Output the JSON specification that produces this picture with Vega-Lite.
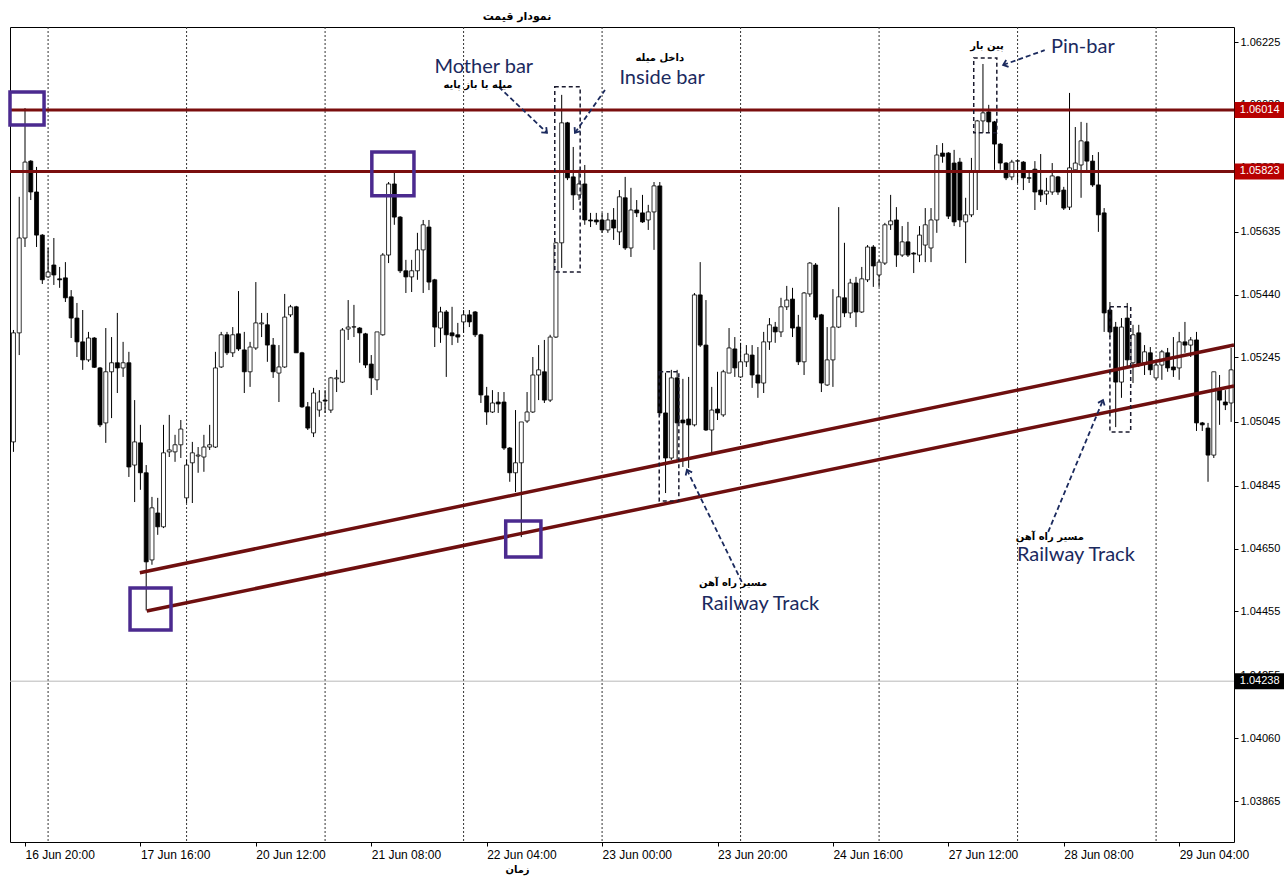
{
"$schema":"https://vega.github.io/schema/vega-lite/v6.json",
"width":1224,"height":815,
"autosize":{"type":"none"},
"padding":{"left":10,"top":27,"right":50,"bottom":35},
"background":"white",
"title":{"text":"نمودار قیمت","anchor":"middle","dx":-105,"offset":5,"fontSize":11,"fontWeight":"bold","font":"DejaVu Sans","color":"black"},
"config":{"view":{"stroke":"#000","strokeWidth":1},"axis":{"grid":false,"domain":false,"labelFont":"Liberation Sans","labelFontSize":11,"labelColor":"#000","tickColor":"#000"},"axisX":{"labelFontSize":12}},
"datasets":{
"candles":[
{"k":-2,"o":1.04982,"h":1.0533,"l":1.04951,"c":1.05321},
{"k":-1,"o":1.05321,"h":1.05744,"l":1.05252,"c":1.05616},
{"k":0,"o":1.05616,"h":1.0602,"l":1.05588,"c":1.05852},
{"k":1,"o":1.05855,"h":1.05858,"l":1.05734,"c":1.05759},
{"k":2,"o":1.05759,"h":1.05837,"l":1.05588,"c":1.05625},
{"k":3,"o":1.05625,"h":1.05628,"l":1.05473,"c":1.05486},
{"k":4,"o":1.05495,"h":1.05585,"l":1.05492,"c":1.0551},
{"k":5,"o":1.05532,"h":1.05616,"l":1.0547,"c":1.05501},
{"k":6,"o":1.05489,"h":1.05526,"l":1.05461,"c":1.05486},
{"k":7,"o":1.05492,"h":1.05541,"l":1.05417,"c":1.0543},
{"k":8,"o":1.05433,"h":1.05454,"l":1.05305,"c":1.05367},
{"k":9,"o":1.05367,"h":1.05414,"l":1.05246,"c":1.05293},
{"k":10,"o":1.05293,"h":1.05392,"l":1.05206,"c":1.05237},
{"k":11,"o":1.05237,"h":1.05324,"l":1.05231,"c":1.05305},
{"k":12,"o":1.05305,"h":1.05308,"l":1.05212,"c":1.05214},
{"k":13,"o":1.05212,"h":1.05215,"l":1.05028,"c":1.05035},
{"k":14,"o":1.05041,"h":1.05336,"l":1.04979,"c":1.052},
{"k":15,"o":1.052,"h":1.05308,"l":1.05056,"c":1.05228},
{"k":16,"o":1.05228,"h":1.05383,"l":1.05134,"c":1.05212},
{"k":17,"o":1.05212,"h":1.05293,"l":1.05184,"c":1.05228},
{"k":18,"o":1.05228,"h":1.05262,"l":1.04873,"c":1.04904},
{"k":19,"o":1.0491,"h":1.05112,"l":1.04795,"c":1.04982},
{"k":20,"o":1.04979,"h":1.05035,"l":1.04833,"c":1.04886},
{"k":21,"o":1.04886,"h":1.0491,"l":1.04458,"c":1.04609},
{"k":22,"o":1.04615,"h":1.04811,"l":1.046,"c":1.04777},
{"k":23,"o":1.04761,"h":1.04808,"l":1.04693,"c":1.04718},
{"k":24,"o":1.04718,"h":1.05035,"l":1.04714,"c":1.04948},
{"k":25,"o":1.04951,"h":1.05066,"l":1.04935,"c":1.04957},
{"k":26,"o":1.04951,"h":1.05004,"l":1.0492,"c":1.04973},
{"k":27,"o":1.04973,"h":1.0505,"l":1.04932,"c":1.05022},
{"k":28,"o":1.04808,"h":1.04926,"l":1.04792,"c":1.0491},
{"k":29,"o":1.04917,"h":1.04982,"l":1.04792,"c":1.04948},
{"k":30,"o":1.04938,"h":1.04966,"l":1.04886,"c":1.04941},
{"k":31,"o":1.04935,"h":1.05004,"l":1.04889,"c":1.04966},
{"k":32,"o":1.04966,"h":1.05035,"l":1.04957,"c":1.04973},
{"k":33,"o":1.04966,"h":1.05262,"l":1.04963,"c":1.05212},
{"k":34,"o":1.05215,"h":1.05324,"l":1.05212,"c":1.05315},
{"k":35,"o":1.05315,"h":1.05324,"l":1.05252,"c":1.05259},
{"k":36,"o":1.05259,"h":1.05339,"l":1.05246,"c":1.05315},
{"k":37,"o":1.05318,"h":1.05451,"l":1.05265,"c":1.05271},
{"k":38,"o":1.05268,"h":1.05324,"l":1.05134,"c":1.052},
{"k":39,"o":1.052,"h":1.05293,"l":1.05153,"c":1.05277},
{"k":40,"o":1.05274,"h":1.05479,"l":1.05268,"c":1.05352},
{"k":41,"o":1.05349,"h":1.05383,"l":1.05308,"c":1.05352},
{"k":42,"o":1.05346,"h":1.05383,"l":1.05231,"c":1.05283},
{"k":43,"o":1.05283,"h":1.05305,"l":1.05181,"c":1.052},
{"k":44,"o":1.05196,"h":1.05283,"l":1.05106,"c":1.05215},
{"k":45,"o":1.05215,"h":1.05442,"l":1.05212,"c":1.0537},
{"k":46,"o":1.05377,"h":1.05408,"l":1.0537,"c":1.05402},
{"k":47,"o":1.05402,"h":1.05405,"l":1.05259,"c":1.05259},
{"k":48,"o":1.05259,"h":1.05262,"l":1.05088,"c":1.05091},
{"k":49,"o":1.05091,"h":1.05106,"l":1.05019,"c":1.05025},
{"k":50,"o":1.0501,"h":1.0515,"l":1.04997,"c":1.05134},
{"k":51,"o":1.05081,"h":1.05143,"l":1.0506,"c":1.05106},
{"k":52,"o":1.05112,"h":1.05143,"l":1.05072,"c":1.05109},
{"k":53,"o":1.05081,"h":1.05184,"l":1.05072,"c":1.05181},
{"k":54,"o":1.05178,"h":1.05206,"l":1.05137,"c":1.05181},
{"k":55,"o":1.05168,"h":1.05336,"l":1.05165,"c":1.0533},
{"k":56,"o":1.05333,"h":1.05423,"l":1.05299,"c":1.05339},
{"k":57,"o":1.05339,"h":1.05408,"l":1.05308,"c":1.0534},
{"k":58,"o":1.05336,"h":1.05339,"l":1.05228,"c":1.05321},
{"k":59,"o":1.05318,"h":1.05321,"l":1.05212,"c":1.05221},
{"k":60,"o":1.05224,"h":1.05252,"l":1.05128,"c":1.05181},
{"k":61,"o":1.05175,"h":1.05324,"l":1.05143,"c":1.05324},
{"k":62,"o":1.05315,"h":1.05569,"l":1.05312,"c":1.05563},
{"k":63,"o":1.05563,"h":1.0579,"l":1.05538,"c":1.05784},
{"k":64,"o":1.05784,"h":1.05821,"l":1.05657,"c":1.05681},
{"k":65,"o":1.05681,"h":1.05684,"l":1.05507,"c":1.05514},
{"k":66,"o":1.05514,"h":1.05548,"l":1.05445,"c":1.05495},
{"k":67,"o":1.05495,"h":1.05548,"l":1.05448,"c":1.05514},
{"k":68,"o":1.05514,"h":1.05632,"l":1.05486,"c":1.05579},
{"k":69,"o":1.05579,"h":1.05672,"l":1.05445,"c":1.05657},
{"k":70,"o":1.0565,"h":1.05672,"l":1.05454,"c":1.05479},
{"k":71,"o":1.05486,"h":1.05489,"l":1.05277,"c":1.05339},
{"k":72,"o":1.05336,"h":1.05402,"l":1.0529,"c":1.05386},
{"k":73,"o":1.05386,"h":1.05392,"l":1.05184,"c":1.05315},
{"k":74,"o":1.05321,"h":1.05402,"l":1.05283,"c":1.05312},
{"k":75,"o":1.05315,"h":1.05352,"l":1.0529,"c":1.05308},
{"k":76,"o":1.05355,"h":1.05392,"l":1.05321,"c":1.05377},
{"k":77,"o":1.05377,"h":1.05392,"l":1.05339,"c":1.05355},
{"k":78,"o":1.05386,"h":1.05389,"l":1.05308,"c":1.05315},
{"k":79,"o":1.05315,"h":1.05318,"l":1.05103,"c":1.05128},
{"k":80,"o":1.05125,"h":1.05153,"l":1.05035,"c":1.05075},
{"k":81,"o":1.05075,"h":1.05143,"l":1.05072,"c":1.05103},
{"k":82,"o":1.05106,"h":1.05137,"l":1.05072,"c":1.051},
{"k":83,"o":1.05106,"h":1.05137,"l":1.04957,"c":1.04963},
{"k":84,"o":1.04963,"h":1.04966,"l":1.04858,"c":1.04886},
{"k":85,"o":1.04886,"h":1.05081,"l":1.04826,"c":1.04917},
{"k":86,"o":1.04917,"h":1.05044,"l":1.04686,"c":1.05044},
{"k":87,"o":1.05047,"h":1.05137,"l":1.05041,"c":1.05075},
{"k":88,"o":1.05075,"h":1.05246,"l":1.05072,"c":1.0519},
{"k":89,"o":1.0519,"h":1.05283,"l":1.05112,"c":1.05206},
{"k":90,"o":1.052,"h":1.05299,"l":1.05103,"c":1.05112},
{"k":91,"o":1.05112,"h":1.05315,"l":1.05106,"c":1.05308},
{"k":92,"o":1.05308,"h":1.05604,"l":1.05305,"c":1.05601},
{"k":93,"o":1.05601,"h":1.06061,"l":1.05523,"c":1.05974},
{"k":94,"o":1.05974,"h":1.05977,"l":1.05796,"c":1.05803},
{"k":95,"o":1.05806,"h":1.05899,"l":1.05703,"c":1.0575},
{"k":96,"o":1.0575,"h":1.05828,"l":1.05734,"c":1.05784},
{"k":97,"o":1.05784,"h":1.05843,"l":1.05657,"c":1.05672},
{"k":98,"o":1.05672,"h":1.05694,"l":1.0565,"c":1.05669},
{"k":99,"o":1.05672,"h":1.05694,"l":1.05657,"c":1.05666},
{"k":100,"o":1.05672,"h":1.05694,"l":1.05632,"c":1.05641},
{"k":101,"o":1.05641,"h":1.05694,"l":1.05632,"c":1.05672},
{"k":102,"o":1.05672,"h":1.05709,"l":1.0561,"c":1.05647},
{"k":103,"o":1.05635,"h":1.05765,"l":1.05594,"c":1.05744},
{"k":104,"o":1.05741,"h":1.05806,"l":1.05579,"c":1.05585},
{"k":105,"o":1.05585,"h":1.05772,"l":1.05557,"c":1.05703},
{"k":106,"o":1.05703,"h":1.05734,"l":1.05681,"c":1.05694},
{"k":107,"o":1.05694,"h":1.0575,"l":1.05663,"c":1.05666},
{"k":108,"o":1.05672,"h":1.05719,"l":1.05641,"c":1.05697},
{"k":109,"o":1.05697,"h":1.0579,"l":1.05579,"c":1.05778},
{"k":110,"o":1.05778,"h":1.0579,"l":1.05063,"c":1.05072},
{"k":111,"o":1.05072,"h":1.05197,"l":1.04823,"c":1.04932},
{"k":112,"o":1.04932,"h":1.05206,"l":1.04926,"c":1.05181},
{"k":113,"o":1.05181,"h":1.05206,"l":1.04926,"c":1.05041},
{"k":114,"o":1.0505,"h":1.05178,"l":1.04904,"c":1.05041},
{"k":115,"o":1.05053,"h":1.05184,"l":1.04901,"c":1.05035},
{"k":116,"o":1.05035,"h":1.05445,"l":1.0503,"c":1.05439},
{"k":117,"o":1.05439,"h":1.05541,"l":1.05277,"c":1.05283},
{"k":118,"o":1.05283,"h":1.05423,"l":1.05016,"c":1.05019},
{"k":119,"o":1.05019,"h":1.05153,"l":1.04948,"c":1.05081},
{"k":120,"o":1.05084,"h":1.052,"l":1.0505,"c":1.05072},
{"k":121,"o":1.05066,"h":1.05206,"l":1.0506,"c":1.052},
{"k":122,"o":1.05196,"h":1.05336,"l":1.05196,"c":1.05274},
{"k":123,"o":1.05271,"h":1.05308,"l":1.05184,"c":1.05212},
{"k":124,"o":1.05184,"h":1.0529,"l":1.05181,"c":1.05231},
{"k":125,"o":1.05231,"h":1.05283,"l":1.05215,"c":1.05255},
{"k":126,"o":1.05252,"h":1.05283,"l":1.0515,"c":1.0519},
{"k":127,"o":1.0519,"h":1.05277,"l":1.05119,"c":1.05165},
{"k":128,"o":1.05165,"h":1.05324,"l":1.05134,"c":1.05293},
{"k":129,"o":1.05293,"h":1.05367,"l":1.05268,"c":1.05346},
{"k":130,"o":1.05339,"h":1.05355,"l":1.0529,"c":1.05324},
{"k":131,"o":1.05324,"h":1.0543,"l":1.05308,"c":1.05402},
{"k":132,"o":1.05402,"h":1.05467,"l":1.05392,"c":1.05423},
{"k":133,"o":1.05426,"h":1.05461,"l":1.05308,"c":1.05336},
{"k":134,"o":1.05339,"h":1.05377,"l":1.05221,"c":1.05231},
{"k":135,"o":1.05231,"h":1.05448,"l":1.0519,"c":1.05445},
{"k":136,"o":1.05442,"h":1.05541,"l":1.05433,"c":1.05538},
{"k":137,"o":1.05532,"h":1.05538,"l":1.05361,"c":1.0537},
{"k":138,"o":1.05377,"h":1.0538,"l":1.05137,"c":1.05165},
{"k":139,"o":1.05159,"h":1.05339,"l":1.05156,"c":1.05237},
{"k":140,"o":1.05237,"h":1.05457,"l":1.05153,"c":1.05339},
{"k":141,"o":1.05339,"h":1.05712,"l":1.05336,"c":1.05433},
{"k":142,"o":1.0543,"h":1.05601,"l":1.0537,"c":1.05383},
{"k":143,"o":1.05383,"h":1.05489,"l":1.05367,"c":1.05476},
{"k":144,"o":1.05476,"h":1.05495,"l":1.05339,"c":1.05386},
{"k":145,"o":1.05386,"h":1.05526,"l":1.05383,"c":1.05489},
{"k":146,"o":1.05486,"h":1.05594,"l":1.05479,"c":1.05588},
{"k":147,"o":1.05588,"h":1.05594,"l":1.05464,"c":1.05529},
{"k":148,"o":1.05501,"h":1.05548,"l":1.05464,"c":1.05541},
{"k":149,"o":1.05538,"h":1.05663,"l":1.05532,"c":1.05657},
{"k":150,"o":1.05657,"h":1.0575,"l":1.05641,"c":1.05669},
{"k":151,"o":1.05672,"h":1.05712,"l":1.05526,"c":1.05563},
{"k":152,"o":1.05563,"h":1.05653,"l":1.05557,"c":1.05604},
{"k":153,"o":1.05604,"h":1.05666,"l":1.05557,"c":1.05563},
{"k":154,"o":1.05569,"h":1.05572,"l":1.05507,"c":1.05566},
{"k":155,"o":1.05563,"h":1.05653,"l":1.05541,"c":1.05625},
{"k":156,"o":1.05594,"h":1.05709,"l":1.05541,"c":1.05657},
{"k":157,"o":1.05585,"h":1.05709,"l":1.05541,"c":1.05672},
{"k":158,"o":1.05672,"h":1.05905,"l":1.05632,"c":1.05874},
{"k":159,"o":1.0588,"h":1.05911,"l":1.0585,"c":1.0587},
{"k":160,"o":1.0588,"h":1.05883,"l":1.05675,"c":1.05684},
{"k":161,"o":1.05849,"h":1.0589,"l":1.05653,"c":1.05666},
{"k":162,"o":1.05852,"h":1.05865,"l":1.0565,"c":1.05672},
{"k":163,"o":1.05666,"h":1.05741,"l":1.05538,"c":1.05688},
{"k":164,"o":1.05688,"h":1.05865,"l":1.05681,"c":1.05821},
{"k":165,"o":1.05821,"h":1.05983,"l":1.05703,"c":1.0598},
{"k":166,"o":1.0598,"h":1.06157,"l":1.05943,"c":1.06005},
{"k":167,"o":1.06008,"h":1.0603,"l":1.05943,"c":1.05977},
{"k":168,"o":1.05977,"h":1.0598,"l":1.05828,"c":1.05908},
{"k":169,"o":1.05908,"h":1.05911,"l":1.05828,"c":1.05849},
{"k":170,"o":1.05849,"h":1.05852,"l":1.05796,"c":1.05803},
{"k":171,"o":1.05806,"h":1.05859,"l":1.05796,"c":1.05852},
{"k":172,"o":1.05855,"h":1.05859,"l":1.05787,"c":1.05856},
{"k":173,"o":1.05852,"h":1.05855,"l":1.05765,"c":1.05803},
{"k":174,"o":1.05803,"h":1.05821,"l":1.05787,"c":1.05802},
{"k":175,"o":1.0583,"h":1.05855,"l":1.05703,"c":1.05759},
{"k":176,"o":1.05765,"h":1.05877,"l":1.05728,"c":1.0575},
{"k":177,"o":1.05753,"h":1.05803,"l":1.05719,"c":1.05762},
{"k":178,"o":1.05759,"h":1.05849,"l":1.0575,"c":1.05809},
{"k":179,"o":1.05806,"h":1.05809,"l":1.0575,"c":1.05759},
{"k":180,"o":1.05765,"h":1.05775,"l":1.05703,"c":1.05709},
{"k":181,"o":1.05712,"h":1.06067,"l":1.05703,"c":1.05834},
{"k":182,"o":1.05828,"h":1.05961,"l":1.05821,"c":1.05849},
{"k":183,"o":1.05843,"h":1.05977,"l":1.05741,"c":1.05918},
{"k":184,"o":1.05915,"h":1.05974,"l":1.05818,"c":1.05855},
{"k":185,"o":1.05855,"h":1.05874,"l":1.05775,"c":1.05781},
{"k":186,"o":1.05781,"h":1.05883,"l":1.05635,"c":1.05688},
{"k":187,"o":1.05694,"h":1.05709,"l":1.05324,"c":1.05383},
{"k":188,"o":1.05392,"h":1.05417,"l":1.05308,"c":1.05324},
{"k":189,"o":1.05339,"h":1.05355,"l":1.05028,"c":1.05168},
{"k":190,"o":1.05168,"h":1.05367,"l":1.05119,"c":1.05339},
{"k":191,"o":1.05367,"h":1.05414,"l":1.05212,"c":1.05237},
{"k":192,"o":1.05228,"h":1.05346,"l":1.05165,"c":1.05315},
{"k":193,"o":1.05321,"h":1.05346,"l":1.05215,"c":1.05221},
{"k":194,"o":1.05228,"h":1.05283,"l":1.0519,"c":1.05262},
{"k":195,"o":1.05259,"h":1.05277,"l":1.0519,"c":1.05206},
{"k":196,"o":1.05181,"h":1.05228,"l":1.05175,"c":1.05221},
{"k":197,"o":1.05221,"h":1.05268,"l":1.05175,"c":1.05262},
{"k":198,"o":1.05259,"h":1.05274,"l":1.052,"c":1.05212},
{"k":199,"o":1.05215,"h":1.05308,"l":1.05184,"c":1.05206},
{"k":200,"o":1.05212,"h":1.05324,"l":1.05175,"c":1.05293},
{"k":201,"o":1.05293,"h":1.05355,"l":1.05259,"c":1.05283},
{"k":202,"o":1.05283,"h":1.05308,"l":1.05246,"c":1.05299},
{"k":203,"o":1.05299,"h":1.05324,"l":1.05016,"c":1.05041},
{"k":204,"o":1.05041,"h":1.05044,"l":1.05016,"c":1.05035},
{"k":205,"o":1.05025,"h":1.05041,"l":1.04858,"c":1.04941},
{"k":206,"o":1.04941,"h":1.052,"l":1.04932,"c":1.052},
{"k":207,"o":1.05143,"h":1.0519,"l":1.05035,"c":1.05112},
{"k":208,"o":1.05106,"h":1.05143,"l":1.05081,"c":1.05097},
{"k":209,"o":1.05103,"h":1.05274,"l":1.05044,"c":1.05206}
],
"seps":[{"k":4},{"k":28},{"k":52},{"k":76},{"k":100},{"k":124},{"k":148},{"k":172},{"k":196}],
"levels":[{"p":1.06014},{"p":1.05823}],
"current":[{"p":1.04238}],
"trend":[{"id":"upper","k":19.9,"p":1.04575},{"id":"upper","k":209.5,"p":1.05283},{"id":"lower","k":21.1,"p":1.04456},{"id":"lower","k":209.5,"p":1.05156}],
"purple":[
{"k1":-2.6,"k2":3.3,"p1":1.0607,"p2":1.05967},
{"k1":60.1,"k2":67.4,"p1":1.05883,"p2":1.05747},
{"k1":83.3,"k2":89.4,"p1":1.04736,"p2":1.04624},
{"k1":18.2,"k2":25.3,"p1":1.04528,"p2":1.04397}
],
"dashed":[
{"k1":91.8,"k2":96.2,"p1":1.06086,"p2":1.0551},
{"k1":109.9,"k2":113.3,"p1":1.052,"p2":1.04798},
{"k1":164.4,"k2":168.4,"p1":1.06176,"p2":1.05943},
{"k1":188.0,"k2":191.6,"p1":1.05402,"p2":1.05013}
],
"arrows":[
{"id":"mother","k":82.1,"p":1.06086},{"id":"mother","k":90.45,"p":1.05943},
{"id":"inside","k":100.5,"p":1.06076},{"id":"inside","k":95.3,"p":1.05943},
{"id":"pin","k":176.7,"p":1.062},{"id":"pin","k":169.5,"p":1.06154},
{"id":"rail1","k":124.2,"p":1.04547},{"id":"rail1","k":114.7,"p":1.04895},
{"id":"rail2","k":177.3,"p":1.04702},{"id":"rail2","k":186.8,"p":1.05112}
],
"heads":[
{"k":90.45,"p":1.05943,"ang":43.8},
{"k":95.3,"p":1.05943,"ang":124.9},
{"k":169.5,"p":1.06154,"ang":160.3},
{"k":114.7,"p":1.04895,"ang":243.8},
{"k":186.8,"p":1.05112,"ang":292.6}
],
"english":[
{"k":79.5,"p":1.06148,"t":"Mother bar"},
{"k":110.4,"p":1.06114,"t":"Inside bar"},
{"k":183.3,"p":1.0621,"t":"Pin-bar"},
{"k":127.4,"p":1.04478,"t":"Railway Track"},
{"k":182.1,"p":1.04631,"t":"Railway Track"}
],
"persian":[
{"k":78.5,"p":1.06092,"t":"میله یا باز پایه"},
{"k":110.0,"p":1.06176,"t":"داخل میله"},
{"k":166.7,"p":1.06213,"t":"پین بار"},
{"k":122.7,"p":1.04544,"t":"مسیر راه آهن"},
{"k":177.6,"p":1.04687,"t":"مسیر راه آهن"}
],
"tags":[
{"p":1.06014,"t":"1.06014","kind":"level"},
{"p":1.05823,"t":"1.05823","kind":"level"},
{"p":1.04238,"t":"1.04238","kind":"current"}
]
},
"layer":[
{"data":{"name":"seps"},"mark":{"type":"rule","color":"#333","strokeWidth":1,"strokeDash":[2,2]},
 "encoding":{"x":{"field":"k","type":"quantitative","scale":{"domain":[-2.6,209.5],"nice":false,"zero":false,"padding":0},
   "axis":{"values":[0,20,40,60,80,100,120,140,160,180,200],"labelExpr":"['16 Jun 20:00','17 Jun 16:00','20 Jun 12:00','21 Jun 08:00','22 Jun 04:00','23 Jun 00:00','23 Jun 20:00','24 Jun 16:00','27 Jun 12:00','28 Jun 08:00','29 Jun 04:00'][round(datum.value/20)]","labelAlign":"left","labelFlush":false,"labelOverlap":false,"tickSize":4,"labelPadding":3,"title":"زمان","titleFont":"DejaVu Sans","titleFontSize":10,"titleFontWeight":"bold","titleX":507,"titleY":27,"titleAlign":"center","titleBaseline":"middle"}}}},
{"data":{"name":"current"},"mark":{"type":"rule","color":"#b8b8b8","strokeWidth":1},
 "encoding":{"y":{"field":"p","type":"quantitative","scale":{"domain":[1.03738,1.06272],"nice":false,"zero":false,"padding":0},
   "axis":{"orient":"right","values":[1.06225,1.0603,1.05835,1.05635,1.0544,1.05245,1.05045,1.04845,1.0465,1.04455,1.04255,1.0406,1.03865],"format":".5f","tickSize":4,"labelPadding":2,"labelOverlap":false,"labelFlush":false,"title":null}}}},
{"data":{"name":"candles"},"mark":{"type":"rule","color":"#000","strokeWidth":1},
 "encoding":{
  "x":{"field":"k","type":"quantitative","scale":{"domain":[-2.6,209.5],"nice":false,"zero":false,"padding":0},
   "axis":{"values":[0,20,40,60,80,100,120,140,160,180,200],"labelExpr":"['16 Jun 20:00','17 Jun 16:00','20 Jun 12:00','21 Jun 08:00','22 Jun 04:00','23 Jun 00:00','23 Jun 20:00','24 Jun 16:00','27 Jun 12:00','28 Jun 08:00','29 Jun 04:00'][round(datum.value/20)]","labelAlign":"left","labelFlush":false,"labelOverlap":false,"tickSize":4,"labelPadding":3,"title":"زمان","titleFont":"DejaVu Sans","titleFontSize":10,"titleFontWeight":"bold","titleX":507,"titleY":27,"titleAlign":"center","titleBaseline":"middle"}},
  "y":{"field":"l","type":"quantitative","scale":{"domain":[1.03738,1.06272],"nice":false,"zero":false,"padding":0},
   "axis":{"orient":"right","values":[1.06225,1.0603,1.05835,1.05635,1.0544,1.05245,1.05045,1.04845,1.0465,1.04455,1.04255,1.0406,1.03865],"format":".5f","tickSize":4,"labelPadding":2,"labelOverlap":false,"labelFlush":false,"title":null}},
  "y2":{"field":"h"}}},
{"data":{"name":"candles"},"mark":{"type":"bar","width":4,"stroke":"#000","strokeWidth":0.8},
 "encoding":{
  "x":{"field":"k","type":"quantitative","scale":{"domain":[-2.6,209.5],"nice":false,"zero":false,"padding":0},
   "axis":{"values":[0,20,40,60,80,100,120,140,160,180,200],"labelExpr":"['16 Jun 20:00','17 Jun 16:00','20 Jun 12:00','21 Jun 08:00','22 Jun 04:00','23 Jun 00:00','23 Jun 20:00','24 Jun 16:00','27 Jun 12:00','28 Jun 08:00','29 Jun 04:00'][round(datum.value/20)]","labelAlign":"left","labelFlush":false,"labelOverlap":false,"tickSize":4,"labelPadding":3,"title":"زمان","titleFont":"DejaVu Sans","titleFontSize":10,"titleFontWeight":"bold","titleX":507,"titleY":27,"titleAlign":"center","titleBaseline":"middle"}},
  "y":{"field":"o","type":"quantitative","scale":{"domain":[1.03738,1.06272],"nice":false,"zero":false,"padding":0},
   "axis":{"orient":"right","values":[1.06225,1.0603,1.05835,1.05635,1.0544,1.05245,1.05045,1.04845,1.0465,1.04455,1.04255,1.0406,1.03865],"format":".5f","tickSize":4,"labelPadding":2,"labelOverlap":false,"labelFlush":false,"title":null}},
  "y2":{"field":"c"},
  "fill":{"condition":{"test":"datum.c > datum.o","value":"#ffffff"},"value":"#000000"}}},
{"data":{"name":"levels"},"mark":{"type":"rule","color":"#7a0e0e","strokeWidth":3},
 "encoding":{"y":{"field":"p","type":"quantitative","scale":{"domain":[1.03738,1.06272],"nice":false,"zero":false,"padding":0},
   "axis":{"orient":"right","values":[1.06225,1.0603,1.05835,1.05635,1.0544,1.05245,1.05045,1.04845,1.0465,1.04455,1.04255,1.0406,1.03865],"format":".5f","tickSize":4,"labelPadding":2,"labelOverlap":false,"labelFlush":false,"title":null}}}},
{"data":{"name":"trend"},"mark":{"type":"line","color":"#6e0f0f","strokeWidth":3.5},
 "encoding":{
  "x":{"field":"k","type":"quantitative","scale":{"domain":[-2.6,209.5],"nice":false,"zero":false,"padding":0},
   "axis":{"values":[0,20,40,60,80,100,120,140,160,180,200],"labelExpr":"['16 Jun 20:00','17 Jun 16:00','20 Jun 12:00','21 Jun 08:00','22 Jun 04:00','23 Jun 00:00','23 Jun 20:00','24 Jun 16:00','27 Jun 12:00','28 Jun 08:00','29 Jun 04:00'][round(datum.value/20)]","labelAlign":"left","labelFlush":false,"labelOverlap":false,"tickSize":4,"labelPadding":3,"title":"زمان","titleFont":"DejaVu Sans","titleFontSize":10,"titleFontWeight":"bold","titleX":507,"titleY":27,"titleAlign":"center","titleBaseline":"middle"}},
  "y":{"field":"p","type":"quantitative","scale":{"domain":[1.03738,1.06272],"nice":false,"zero":false,"padding":0},
   "axis":{"orient":"right","values":[1.06225,1.0603,1.05835,1.05635,1.0544,1.05245,1.05045,1.04845,1.0465,1.04455,1.04255,1.0406,1.03865],"format":".5f","tickSize":4,"labelPadding":2,"labelOverlap":false,"labelFlush":false,"title":null}},
  "detail":{"field":"id"}}},
{"data":{"name":"purple"},"mark":{"type":"rect","filled":false,"stroke":"#4b2a8f","strokeWidth":3.5},
 "encoding":{
  "x":{"field":"k1","type":"quantitative","scale":{"domain":[-2.6,209.5],"nice":false,"zero":false,"padding":0},
   "axis":{"values":[0,20,40,60,80,100,120,140,160,180,200],"labelExpr":"['16 Jun 20:00','17 Jun 16:00','20 Jun 12:00','21 Jun 08:00','22 Jun 04:00','23 Jun 00:00','23 Jun 20:00','24 Jun 16:00','27 Jun 12:00','28 Jun 08:00','29 Jun 04:00'][round(datum.value/20)]","labelAlign":"left","labelFlush":false,"labelOverlap":false,"tickSize":4,"labelPadding":3,"title":"زمان","titleFont":"DejaVu Sans","titleFontSize":10,"titleFontWeight":"bold","titleX":507,"titleY":27,"titleAlign":"center","titleBaseline":"middle"}},
  "x2":{"field":"k2"},
  "y":{"field":"p1","type":"quantitative","scale":{"domain":[1.03738,1.06272],"nice":false,"zero":false,"padding":0},
   "axis":{"orient":"right","values":[1.06225,1.0603,1.05835,1.05635,1.0544,1.05245,1.05045,1.04845,1.0465,1.04455,1.04255,1.0406,1.03865],"format":".5f","tickSize":4,"labelPadding":2,"labelOverlap":false,"labelFlush":false,"title":null}},
  "y2":{"field":"p2"}}},
{"data":{"name":"dashed"},"mark":{"type":"rect","filled":false,"stroke":"#1a1a2e","strokeWidth":1.5,"strokeDash":[4,3]},
 "encoding":{
  "x":{"field":"k1","type":"quantitative","scale":{"domain":[-2.6,209.5],"nice":false,"zero":false,"padding":0},
   "axis":{"values":[0,20,40,60,80,100,120,140,160,180,200],"labelExpr":"['16 Jun 20:00','17 Jun 16:00','20 Jun 12:00','21 Jun 08:00','22 Jun 04:00','23 Jun 00:00','23 Jun 20:00','24 Jun 16:00','27 Jun 12:00','28 Jun 08:00','29 Jun 04:00'][round(datum.value/20)]","labelAlign":"left","labelFlush":false,"labelOverlap":false,"tickSize":4,"labelPadding":3,"title":"زمان","titleFont":"DejaVu Sans","titleFontSize":10,"titleFontWeight":"bold","titleX":507,"titleY":27,"titleAlign":"center","titleBaseline":"middle"}},
  "x2":{"field":"k2"},
  "y":{"field":"p1","type":"quantitative","scale":{"domain":[1.03738,1.06272],"nice":false,"zero":false,"padding":0},
   "axis":{"orient":"right","values":[1.06225,1.0603,1.05835,1.05635,1.0544,1.05245,1.05045,1.04845,1.0465,1.04455,1.04255,1.0406,1.03865],"format":".5f","tickSize":4,"labelPadding":2,"labelOverlap":false,"labelFlush":false,"title":null}},
  "y2":{"field":"p2"}}},
{"data":{"name":"arrows"},"mark":{"type":"line","color":"#1b2a5e","strokeWidth":1.8,"strokeDash":[5,3]},
 "encoding":{
  "x":{"field":"k","type":"quantitative","scale":{"domain":[-2.6,209.5],"nice":false,"zero":false,"padding":0},
   "axis":{"values":[0,20,40,60,80,100,120,140,160,180,200],"labelExpr":"['16 Jun 20:00','17 Jun 16:00','20 Jun 12:00','21 Jun 08:00','22 Jun 04:00','23 Jun 00:00','23 Jun 20:00','24 Jun 16:00','27 Jun 12:00','28 Jun 08:00','29 Jun 04:00'][round(datum.value/20)]","labelAlign":"left","labelFlush":false,"labelOverlap":false,"tickSize":4,"labelPadding":3,"title":"زمان","titleFont":"DejaVu Sans","titleFontSize":10,"titleFontWeight":"bold","titleX":507,"titleY":27,"titleAlign":"center","titleBaseline":"middle"}},
  "y":{"field":"p","type":"quantitative","scale":{"domain":[1.03738,1.06272],"nice":false,"zero":false,"padding":0},
   "axis":{"orient":"right","values":[1.06225,1.0603,1.05835,1.05635,1.0544,1.05245,1.05045,1.04845,1.0465,1.04455,1.04255,1.0406,1.03865],"format":".5f","tickSize":4,"labelPadding":2,"labelOverlap":false,"labelFlush":false,"title":null}},
  "detail":{"field":"id"}}},
{"data":{"name":"heads"},"mark":{"type":"point","shape":"M -1 -0.8 L 0 0 L -1 0.8","filled":false,"stroke":"#1b2a5e","strokeWidth":1.8,"size":80,"opacity":1},
 "encoding":{
  "x":{"field":"k","type":"quantitative","scale":{"domain":[-2.6,209.5],"nice":false,"zero":false,"padding":0},
   "axis":{"values":[0,20,40,60,80,100,120,140,160,180,200],"labelExpr":"['16 Jun 20:00','17 Jun 16:00','20 Jun 12:00','21 Jun 08:00','22 Jun 04:00','23 Jun 00:00','23 Jun 20:00','24 Jun 16:00','27 Jun 12:00','28 Jun 08:00','29 Jun 04:00'][round(datum.value/20)]","labelAlign":"left","labelFlush":false,"labelOverlap":false,"tickSize":4,"labelPadding":3,"title":"زمان","titleFont":"DejaVu Sans","titleFontSize":10,"titleFontWeight":"bold","titleX":507,"titleY":27,"titleAlign":"center","titleBaseline":"middle"}},
  "y":{"field":"p","type":"quantitative","scale":{"domain":[1.03738,1.06272],"nice":false,"zero":false,"padding":0},
   "axis":{"orient":"right","values":[1.06225,1.0603,1.05835,1.05635,1.0544,1.05245,1.05045,1.04845,1.0465,1.04455,1.04255,1.0406,1.03865],"format":".5f","tickSize":4,"labelPadding":2,"labelOverlap":false,"labelFlush":false,"title":null}},
  "angle":{"field":"ang","type":"quantitative","scale":null}}},
{"data":{"name":"english"},"mark":{"type":"text","font":"Lato","fontSize":20,"color":"#1b2a5e","align":"center","baseline":"middle"},
 "encoding":{
  "x":{"field":"k","type":"quantitative","scale":{"domain":[-2.6,209.5],"nice":false,"zero":false,"padding":0},
   "axis":{"values":[0,20,40,60,80,100,120,140,160,180,200],"labelExpr":"['16 Jun 20:00','17 Jun 16:00','20 Jun 12:00','21 Jun 08:00','22 Jun 04:00','23 Jun 00:00','23 Jun 20:00','24 Jun 16:00','27 Jun 12:00','28 Jun 08:00','29 Jun 04:00'][round(datum.value/20)]","labelAlign":"left","labelFlush":false,"labelOverlap":false,"tickSize":4,"labelPadding":3,"title":"زمان","titleFont":"DejaVu Sans","titleFontSize":10,"titleFontWeight":"bold","titleX":507,"titleY":27,"titleAlign":"center","titleBaseline":"middle"}},
  "y":{"field":"p","type":"quantitative","scale":{"domain":[1.03738,1.06272],"nice":false,"zero":false,"padding":0},
   "axis":{"orient":"right","values":[1.06225,1.0603,1.05835,1.05635,1.0544,1.05245,1.05045,1.04845,1.0465,1.04455,1.04255,1.0406,1.03865],"format":".5f","tickSize":4,"labelPadding":2,"labelOverlap":false,"labelFlush":false,"title":null}},
  "text":{"field":"t"}}},
{"data":{"name":"persian"},"mark":{"type":"text","font":"DejaVu Sans","fontSize":10,"fontWeight":"bold","color":"#000","align":"center","baseline":"middle"},
 "encoding":{
  "x":{"field":"k","type":"quantitative","scale":{"domain":[-2.6,209.5],"nice":false,"zero":false,"padding":0},
   "axis":{"values":[0,20,40,60,80,100,120,140,160,180,200],"labelExpr":"['16 Jun 20:00','17 Jun 16:00','20 Jun 12:00','21 Jun 08:00','22 Jun 04:00','23 Jun 00:00','23 Jun 20:00','24 Jun 16:00','27 Jun 12:00','28 Jun 08:00','29 Jun 04:00'][round(datum.value/20)]","labelAlign":"left","labelFlush":false,"labelOverlap":false,"tickSize":4,"labelPadding":3,"title":"زمان","titleFont":"DejaVu Sans","titleFontSize":10,"titleFontWeight":"bold","titleX":507,"titleY":27,"titleAlign":"center","titleBaseline":"middle"}},
  "y":{"field":"p","type":"quantitative","scale":{"domain":[1.03738,1.06272],"nice":false,"zero":false,"padding":0},
   "axis":{"orient":"right","values":[1.06225,1.0603,1.05835,1.05635,1.0544,1.05245,1.05045,1.04845,1.0465,1.04455,1.04255,1.0406,1.03865],"format":".5f","tickSize":4,"labelPadding":2,"labelOverlap":false,"labelFlush":false,"title":null}},
  "text":{"field":"t"}}},
{"data":{"name":"tags"},
 "mark":{"type":"rect","height":16},
 "encoding":{
  "x":{"datum":209.6,"type":"quantitative","scale":{"domain":[-2.6,209.5],"nice":false,"zero":false,"padding":0},
   "axis":{"values":[0,20,40,60,80,100,120,140,160,180,200],"labelExpr":"['16 Jun 20:00','17 Jun 16:00','20 Jun 12:00','21 Jun 08:00','22 Jun 04:00','23 Jun 00:00','23 Jun 20:00','24 Jun 16:00','27 Jun 12:00','28 Jun 08:00','29 Jun 04:00'][round(datum.value/20)]","labelAlign":"left","labelFlush":false,"labelOverlap":false,"tickSize":4,"labelPadding":3,"title":"زمان","titleFont":"DejaVu Sans","titleFontSize":10,"titleFontWeight":"bold","titleX":507,"titleY":27,"titleAlign":"center","titleBaseline":"middle"}},
  "x2":{"datum":218.3},
  "y":{"field":"p","type":"quantitative","scale":{"domain":[1.03738,1.06272],"nice":false,"zero":false,"padding":0},
   "axis":{"orient":"right","values":[1.06225,1.0603,1.05835,1.05635,1.0544,1.05245,1.05045,1.04845,1.0465,1.04455,1.04255,1.0406,1.03865],"format":".5f","tickSize":4,"labelPadding":2,"labelOverlap":false,"labelFlush":false,"title":null}},
  "color":{"field":"kind","type":"nominal","scale":{"domain":["level","current"],"range":["#b80000","#000000"]},"legend":null}}},
{"data":{"name":"tags"},
 "mark":{"type":"text","font":"Liberation Sans","fontSize":11,"color":"#ffffff","align":"center","baseline":"middle"},
 "encoding":{
  "x":{"datum":213.95,"type":"quantitative","scale":{"domain":[-2.6,209.5],"nice":false,"zero":false,"padding":0},
   "axis":{"values":[0,20,40,60,80,100,120,140,160,180,200],"labelExpr":"['16 Jun 20:00','17 Jun 16:00','20 Jun 12:00','21 Jun 08:00','22 Jun 04:00','23 Jun 00:00','23 Jun 20:00','24 Jun 16:00','27 Jun 12:00','28 Jun 08:00','29 Jun 04:00'][round(datum.value/20)]","labelAlign":"left","labelFlush":false,"labelOverlap":false,"tickSize":4,"labelPadding":3,"title":"زمان","titleFont":"DejaVu Sans","titleFontSize":10,"titleFontWeight":"bold","titleX":507,"titleY":27,"titleAlign":"center","titleBaseline":"middle"}},
  "y":{"field":"p","type":"quantitative","scale":{"domain":[1.03738,1.06272],"nice":false,"zero":false,"padding":0},
   "axis":{"orient":"right","values":[1.06225,1.0603,1.05835,1.05635,1.0544,1.05245,1.05045,1.04845,1.0465,1.04455,1.04255,1.0406,1.03865],"format":".5f","tickSize":4,"labelPadding":2,"labelOverlap":false,"labelFlush":false,"title":null}},
  "text":{"field":"t"}}}
]
}
